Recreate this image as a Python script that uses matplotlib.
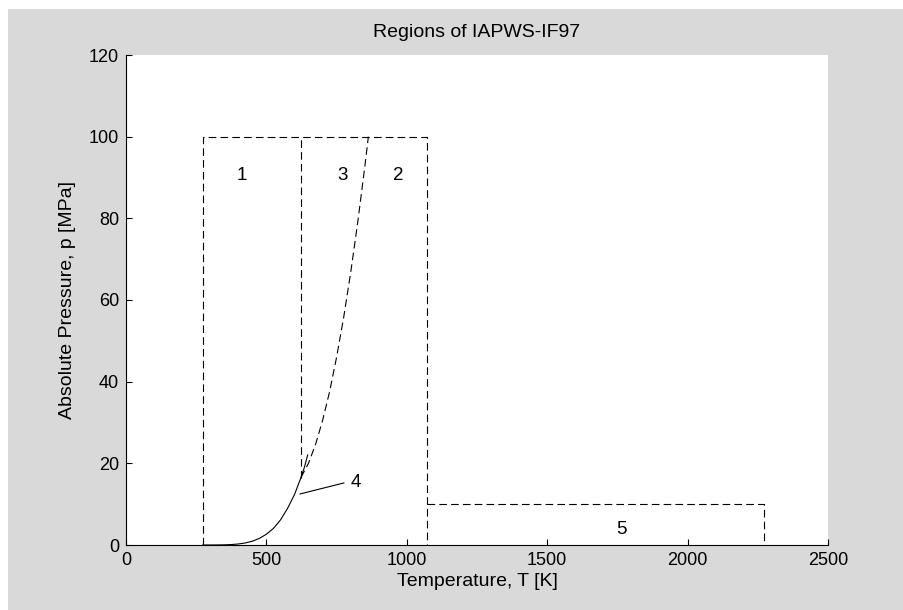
import numpy as np
import matplotlib.pyplot as plt
from matplotlib.patches import Rectangle

plt.rcParams['font.family'] = ['Liberation Sans', 'DejaVu Sans']
plt.rcParams['lines.scale_dashes'] = False

# region boundaries [K], [MPa]
T_min, T_13, T_25, T_max = 273.15, 623.15, 1073.15, 2273.15
p_max, p_5 = 100.0, 10.0

# saturation line (region 4)
T_sat = [273.15, 300, 325, 350, 375, 400, 425, 450, 475, 500, 525, 550, 575, 600, 623.15, 635, 647.1]
p_sat = [0.0006, 0.0035, 0.0134, 0.0417, 0.1087, 0.2458, 0.5002, 0.932, 1.622, 2.639, 4.062, 6.117, 8.929, 12.34, 16.53, 18.96, 22.06]

# boundary between regions 2 and 3
T_b23 = [623.15, 650, 675, 700, 725, 750, 775, 800, 825, 850, 863.15]
p_b23 = [16.53, 20.03, 24.62, 30.48, 37.52, 46.01, 55.65, 66.65, 78.90, 92.38, 100.0]

labels = ['1', '3', '2', '5', '4']
label_T = [412, 770, 969, 1765, 819]
label_p = [90.6, 90.6, 90.6, 3.9, 15.2]

fig = plt.figure(figsize=(9.04, 6.10), dpi=100, facecolor='white')
fig.patches.append(Rectangle((8/904, 0), 1, (610-9)/610, transform=fig.transFigure,
                             facecolor='#d9d9d9', edgecolor='none', zorder=-10))
ax = fig.add_axes([126/904, (610-545)/610, (828-126)/904, (545-55)/610])

dash = (0, (5.5, 3))
kw = dict(color='black', lw=0.8, linestyle=dash)

# regions 1/2/3 box
ax.plot([T_min, T_min, T_25, T_25], [0, p_max, p_max, 0], **kw)
ax.plot([T_13, T_13], [p_sat[14], p_max], **kw)
ax.plot(T_b23, p_b23, **kw)
# region 5 box
ax.plot([T_25, T_max, T_max], [p_5, p_5, 0], **kw)
# saturation line
ax.plot(T_sat, p_sat, color='black', lw=0.8)

# pointer for region 4
ax.plot([620, 776], [12.5, 15.2], color='black', lw=0.8)

for s, t, p in zip(labels, label_T, label_p):
    ax.text(t, p, s, fontsize=13.5, ha='center', va='center')

ax.set_xlim(0, 2500)
ax.set_ylim(0, 120)
ax.set_xticks(np.arange(0, 2501, 500))
ax.set_yticks(np.arange(0, 121, 20))
ax.tick_params(direction='in', length=4.5, width=0.8, labelsize=13, pad=5)
for side in ['top', 'right']:
    ax.spines[side].set_visible(False)
for side in ['bottom', 'left']:
    ax.spines[side].set_linewidth(0.8)

ax.set_title('Regions of IAPWS-IF97', fontsize=14, pad=13)
ax.set_xlabel('Temperature, T [K]', fontsize=14, labelpad=3)
ax.set_ylabel('Absolute Pressure, p [MPa]', fontsize=14, labelpad=9)

plt.savefig('out.png', dpi=100)
